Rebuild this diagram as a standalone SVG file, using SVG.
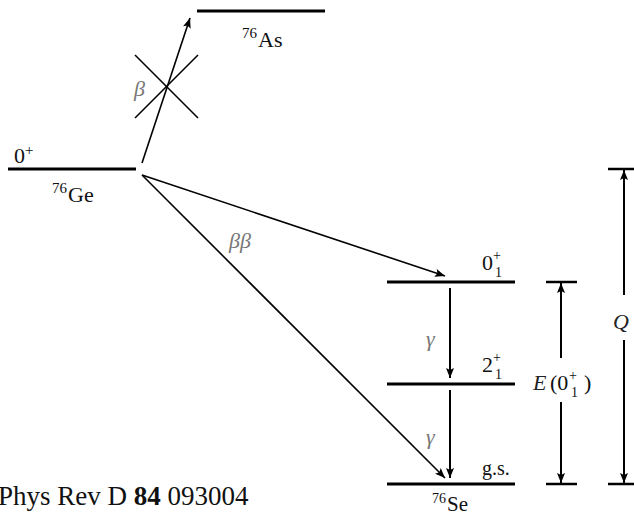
<svg xmlns="http://www.w3.org/2000/svg" width="634" height="516" viewBox="0 0 634 516">
<style>
.lvl{stroke:#000;stroke-width:3;fill:none}
.bar{stroke:#000;stroke-width:2.5;fill:none}
.ar{stroke:#000;stroke-width:1.6;fill:none}
.ar2{stroke:#000;stroke-width:2;fill:none}
.t{font-family:"Liberation Serif","DejaVu Serif",serif;fill:#111}
.g{font-family:"Liberation Serif","DejaVu Serif",serif;font-style:italic;fill:#777}
.m{font-family:"Liberation Serif","DejaVu Serif",serif;font-style:italic;fill:#222}
</style>
<defs>
<marker id="ah" viewBox="0 0 10 8" refX="10" refY="4" markerWidth="11" markerHeight="8" markerUnits="userSpaceOnUse" orient="auto">
<path d="M0,0 L10,4 L0,8 L2,4 Z" fill="#000"/>
</marker>
</defs>
<rect width="634" height="516" fill="#fff"/>

<g id="ge">
<line class="lvl" x1="8" y1="169" x2="136" y2="169"/>
<text class="t" x="14" y="163" font-size="22">0</text>
<text class="t" x="25" y="155" font-size="15">+</text>
<text class="t" x="52" y="193" font-size="15">76</text>
<text class="t" x="68" y="202" font-size="22">Ge</text>
</g>

<g id="as">
<line class="lvl" x1="197" y1="11" x2="325" y2="11"/>
<text class="t" x="242" y="38" font-size="15">76</text>
<text class="t" x="258" y="47" font-size="22">As</text>
</g>

<g id="se01">
<line class="lvl" x1="387" y1="282" x2="515" y2="282"/>
<text class="t" x="482" y="270" font-size="22">0</text>
<text class="t" x="493" y="260" font-size="14">+</text>
<text class="t" x="495" y="277" font-size="14">1</text>
</g>

<g id="se21">
<line class="lvl" x1="387" y1="384" x2="515" y2="384"/>
<text class="t" x="482" y="372" font-size="22">2</text>
<text class="t" x="493" y="362" font-size="14">+</text>
<text class="t" x="495" y="379" font-size="14">1</text>
</g>

<g id="segs">
<line class="lvl" x1="387" y1="484" x2="515" y2="484"/>
<text class="t" x="482" y="475" font-size="20" fill="#555">g.s.</text>
<text class="t" x="432" y="503" font-size="14">76</text>
<text class="t" x="447" y="511" font-size="21">Se</text>
</g>

<g id="e-bracket">
<line class="bar" x1="546" y1="282" x2="577" y2="282"/>
<line class="bar" x1="546" y1="484" x2="577" y2="484"/>
<text class="m" x="533" y="390" font-size="22">E</text>
<text class="t" x="550" y="390" font-size="22">(0</text>
<text class="t" x="569" y="380" font-size="14">+</text>
<text class="t" x="571" y="397" font-size="14">1</text>
<text class="t" x="584" y="390" font-size="22">)</text>
</g>

<g id="q-bracket">
<line class="bar" x1="608" y1="169" x2="634" y2="169"/>
<line class="bar" x1="608" y1="484" x2="634" y2="484"/>
<text class="m" x="613" y="329" font-size="22">Q</text>
</g>

<g id="connectors">
<line class="ar" x1="142" y1="163" x2="190" y2="18" marker-end="url(#ah)"/>
<line class="ar" x1="135" y1="55" x2="198" y2="118"/>
<line class="ar" x1="135" y1="118" x2="198" y2="55"/>
<text class="g" x="134" y="96" font-size="22">β</text>
<line class="ar" x1="142" y1="175" x2="445" y2="276" marker-end="url(#ah)"/>
<line class="ar" x1="142" y1="175" x2="445" y2="478" marker-end="url(#ah)"/>
<text class="g" x="229" y="248" font-size="22">ββ</text>
<line class="ar2" x1="450" y1="288" x2="450" y2="378" marker-end="url(#ah)"/>
<text class="g" x="426" y="346" font-size="22">γ</text>
<line class="ar2" x1="450" y1="390" x2="450" y2="478" marker-end="url(#ah)"/>
<text class="g" x="426" y="444" font-size="22">γ</text>
<line class="ar2" x1="561" y1="358" x2="561" y2="283" marker-end="url(#ah)"/>
<line class="ar2" x1="561" y1="402" x2="561" y2="483" marker-end="url(#ah)"/>
<line class="ar2" x1="624" y1="295" x2="624" y2="170" marker-end="url(#ah)"/>
<line class="ar2" x1="624" y1="340" x2="624" y2="483" marker-end="url(#ah)"/>
</g>

<text class="t" x="-2" y="505" font-size="27">Phys Rev D <tspan font-weight="bold">84</tspan> 093004</text>
</svg>
